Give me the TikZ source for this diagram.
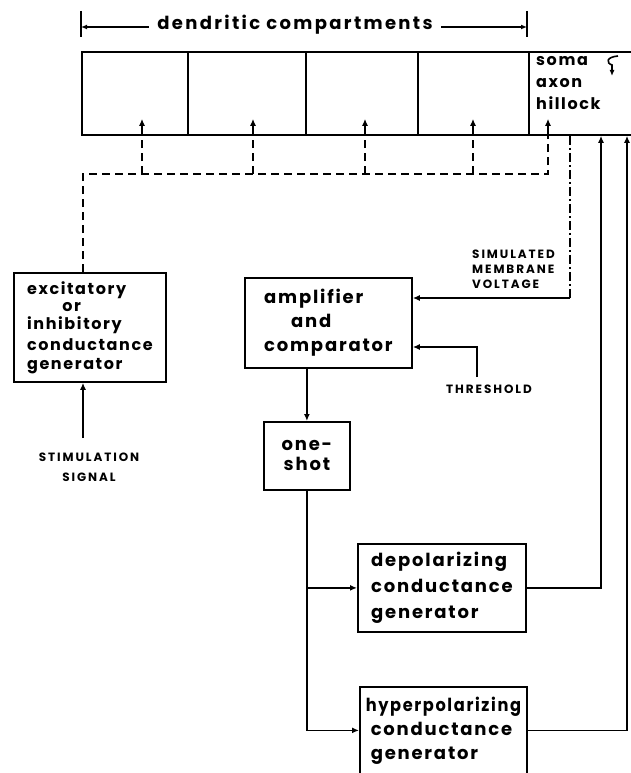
\documentclass[tikz,border=0pt]{standalone}
\usepackage{fontspec}
\usepackage{graphicx}
\setmainfont{Poppins}
\newfontfamily\geo[LetterSpace=10]{Poppins}
\newfontfamily\geowide[LetterSpace=13]{Poppins}
\newfontfamily\capsf[LetterSpace=16]{Poppins}
\usetikzlibrary{arrows.meta}
\begin{document}
\begin{tikzpicture}[x=1pt,y=-1pt,
  box/.style={draw, line width=1.8pt, inner sep=0pt, anchor=north west},
  txt/.style={font=\geo\bfseries\fontsize{18}{24}\selectfont, align=left},
  ln/.style={line width=1.8pt},
  arr/.style={line width=1.8pt, -{Latex[length=7pt,width=6pt]}},
  dsh/.style={line width=1.8pt, dash pattern=on 8pt off 5pt},
  dshdot/.style={line width=1.8pt, dash pattern=on 9pt off 3pt on 2pt off 3pt},
  lbl/.style={font=\capsf\bfseries\fontsize{12}{15}\selectfont, inner sep=0pt}]
\clip (0,0) rectangle (631,773);
\fill[white] (0,0) rectangle (631,773);

% dimension line
\coordinate (dl) at (81,27);
\coordinate (dr) at (527,27);
\draw[ln] (81,11) -- (81,37);
\draw[ln] (527,11) -- (527,37);
\draw[ln, {Latex[length=6pt,width=5pt]}-{Latex[length=6pt,width=5pt]}] (dl) -- (dr);
\node[fill=white, inner xsep=8pt, inner ysep=2pt, font=\geowide\bfseries\fontsize{18}{24}\selectfont] (dimlbl) at (295,25) {dendritic compartments};

% compartments
\node[box, minimum width=106, minimum height=83] (c1) at (81,51) {};
\node[box, minimum width=118, minimum height=83] (c2) at (187,51) {};
\node[box, minimum width=112, minimum height=83] (c3) at (305,51) {};
\node[box, minimum width=111, minimum height=83] (c4) at (417,51) {};
\node[box, minimum width=130, minimum height=83] (soma) at (528,51) {};
\node[font=\geo\bfseries\fontsize{16}{22}\selectfont, align=left, anchor=north west, inner sep=0pt] (somatxt) at (536,56) {soma\\axon\\hillock};
\draw[line width=1.6pt, -{Latex[length=6pt,width=5pt]}] (618,56) .. controls (606,57) and (606,63) .. (612,65) -- (612,76);

% bus
\coordinate (b0) at (83,174);
\coordinate (b1) at (142,174);
\coordinate (b2) at (253,174);
\coordinate (b3) at (365,174);
\coordinate (b4) at (473,174);
\coordinate (b5) at (548,174);

% excitatory generator
\node[box, minimum width=152, minimum height=109, txt, font=\geo\bfseries\fontsize{16}{20}\selectfont] (ex) at (13,272)
  {excitatory\\[-3pt]\hspace*{2.2em}or\\[-2pt]inhibitory\\[1pt]conductance\\[-1pt]generator};

\draw[dsh] (ex.north -| b0) -- (b0) -- (b5) -- (b5 |- soma.south);
\foreach \b/\c in {b1/c1,b2/c2,b3/c3,b4/c4}{
  \draw[dsh] (\b) -- (\b |- \c.south);
  \draw[arr] (\b |- \c.south) -- ++(0,-17);
}
\draw[arr] (b5 |- soma.south) -- ++(0,-17);

\coordinate (stim) at (83,438);
\draw[arr] (stim) -- (stim |- ex.south);
\node[lbl, align=center, font=\capsf\bfseries\fontsize{12}{20}\selectfont] (stlbl) at (89,467) {STIMULATION\\SIGNAL};

% amplifier
\node[box, minimum width=167, minimum height=90, txt] (amp) at (244,277)
  {amplifier\\\hspace*{1.5em}and\\comparator};
\coordinate (v1) at (570,298);
\draw[dshdot] (v1 |- soma.south) -- (v1);
\draw[arr] (v1) -- (v1 -| amp.east);
\node[lbl, align=left, anchor=north west] (smv) at (472,250) {SIMULATED\\MEMBRANE\\VOLTAGE};
\coordinate (th) at (477,377);
\coordinate (thc) at (477,347);
\draw[arr] (th) -- (thc) -- (thc -| amp.east);
\node[lbl] (thlbl) at (489,389) {THRESHOLD};

% one-shot
\node[box, minimum width=86, minimum height=68, txt, align=center, font=\geo\bfseries\fontsize{18}{20}\selectfont] (os) at (263,421) {one-\\shot};
\draw[arr] (amp.south -| os.north) -- (os.north);

% depolarizing / hyperpolarizing
\node[box, minimum width=168, minimum height=88, txt] (dep) at (357,543)
  {depolarizing\\[2pt]conductance\\[2pt]generator};
\node[box, minimum width=167, minimum height=87, txt] (hyp) at (359,686)
  {\scalebox{0.9}[1]{hyperpolarizing}\\\hspace*{5pt}conductance\\\hspace*{5pt}generator};
\draw[arr] (os.south) -- (os.south |- dep.west) -- (dep.west);
\draw[arr] (os.south) -- (os.south |- hyp.west) -- (hyp.west);
\coordinate (v2) at (601,400);
\coordinate (v3) at (627,400);
\draw[arr] (dep.east) -- (dep.east -| v2) -- (v2 |- soma.south);
\draw[arr] (hyp.east) -- (hyp.east -| v3) -- (v3 |- soma.south);
\end{tikzpicture}
\end{document}
